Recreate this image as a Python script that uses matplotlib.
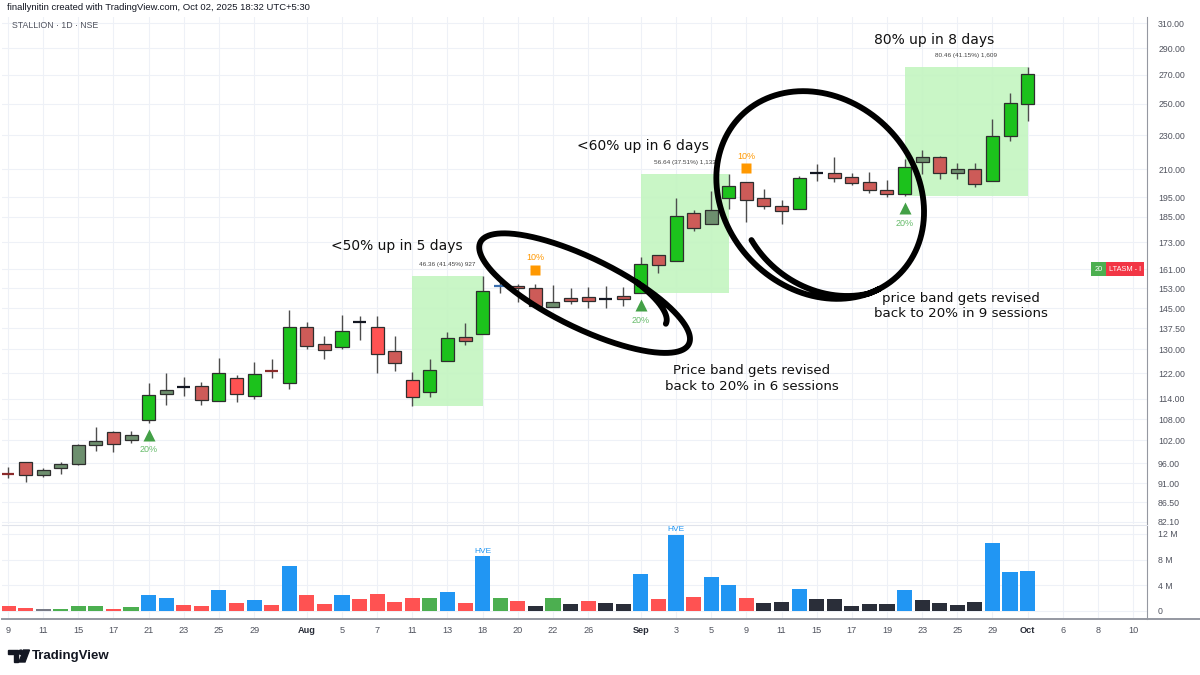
import numpy as np
import matplotlib
matplotlib.use('Agg')
import matplotlib.pyplot as plt
from matplotlib.patches import Rectangle, Polygon, Circle
from matplotlib.ticker import NullLocator, FixedLocator, FixedFormatter
from matplotlib.transforms import offset_copy

plt.rcParams['font.family'] = ['Liberation Sans', 'DejaVu Sans']

# STALLION 1D, sessions Jul 9 2025 -> Oct 1 2025
opens = [93.6, 96.2, 93.0, 94.9, 95.8, 100.8, 104.3, 102.0, 107.6, 115.4,
         117.5, 117.8, 113.3, 120.6, 114.8, 123.0, 119.0, 137.8, 131.8, 130.9,
         139.8, 137.8, 129.5, 119.7, 115.9, 126.0, 134.2, 135.5, 154.0, 154.1,
         153.0, 145.6, 149.1, 149.5, 148.7, 149.8, 151.2, 167.0, 164.6, 186.7,
         181.5, 194.6, 202.9, 194.7, 190.3, 188.8, 207.6, 207.8, 205.9, 203.1,
         198.6, 196.4, 214.0, 217.1, 208.1, 210.0, 203.5, 229.7, 249.7]
highs = [95.0, 96.4, 94.9, 96.2, 101.0, 105.6, 104.6, 104.7, 118.9, 122.2,
         120.8, 119.3, 127.2, 121.3, 125.6, 126.8, 144.2, 139.8, 134.6, 142.4,
         142.0, 141.9, 134.6, 122.4, 126.6, 136.3, 139.3, 158.21, 156.2, 154.8,
         154.8, 154.4, 153.2, 153.5, 153.7, 153.5, 166.3, 167.0, 194.6, 188.6,
         198.1, 207.64, 202.9, 199.0, 193.5, 206.1, 213.2, 217.1, 208.2, 208.7,
         203.9, 215.6, 221.0, 217.8, 213.7, 213.3, 240.2, 257.2, 275.99]
lows = [92.3, 91.3, 92.6, 93.2, 95.5, 99.1, 99.0, 101.2, 106.9, 112.0,
        114.9, 112.0, 113.3, 113.0, 113.8, 120.6, 117.0, 130.2, 126.8, 130.2,
        133.4, 122.1, 122.8, 111.85, 114.4, 126.0, 131.5, 135.5, 151.0, 147.3,
        145.2, 145.6, 146.7, 145.2, 145.2, 146.0, 151.0, 159.3, 164.6, 178.0,
        181.5, 188.8, 182.4, 188.8, 181.4, 188.8, 203.4, 203.1, 201.6, 196.9,
        195.2, 195.53, 207.6, 204.7, 204.7, 200.1, 203.5, 226.5, 238.8]
closes = [93.2, 93.0, 94.4, 95.7, 100.7, 101.8, 101.1, 103.6, 115.0, 116.8,
          117.7, 113.7, 122.2, 115.5, 121.9, 122.7, 137.8, 131.2, 129.7, 136.4,
          140.0, 128.3, 125.5, 114.4, 123.1, 134.1, 133.0, 151.7, 153.7, 153.2,
          145.9, 147.3, 147.7, 147.9, 148.9, 148.7, 163.3, 162.7, 185.6, 179.8,
          188.6, 201.0, 193.5, 190.3, 187.7, 205.0, 207.9, 205.4, 202.2, 198.5,
          196.6, 211.5, 217.1, 208.1, 209.9, 201.7, 229.4, 250.3, 270.9]
# candle colouring used on the chart
candle_kind = "drggggrgGg" "krGRGdGrrG" "kRrRGGrGbr" "rgrrkrGrGr" "gGrrrGkrrr" "rGgrgrGGG"

# volume in millions
volumes = [0.83, 0.5, 0.25, 0.3, 0.7, 0.7, 0.35, 0.55, 2.5, 2.07,
           0.93, 0.83, 3.3, 1.2, 1.7, 0.93, 7.05, 2.5, 1.1, 2.5,
           1.87, 2.65, 1.35, 1.97, 2.1, 2.9, 1.2, 8.5, 2.1, 1.6,
           0.83, 2.1, 1.03, 1.55, 1.2, 1.14, 5.7, 1.9, 11.9, 2.2,
           5.3, 4.05, 2.07, 1.2, 1.4, 3.47, 1.8, 1.8, 0.78, 1.1,
           1.1, 3.27, 1.7, 1.2, 0.93, 1.4, 10.6, 6.07, 6.23]
vol_kind = "RRgGGGRGBB" "RRBRBRBRRB" "RRRRGBRBGR" "KGKRKKBRBR" "BBRKKBKKKK" "KBKKKKBBB"
hve_idx = [27, 38]

tick_idx = [0, 2, 4, 6, 8, 10, 12, 14, 17, 19, 21, 23, 25, 27, 29, 31, 33, 36,
            38, 40, 42, 44, 46, 48, 50, 52, 54, 56, 58, 60, 62, 64]
tick_labels = ['9', '11', '15', '17', '21', '23', '25', '29', 'Aug', '5', '7', '11',
               '13', '18', '20', '22', '26', 'Sep', '3', '5', '9', '11', '15', '17',
               '19', '23', '25', '29', 'Oct', '6', '8', '10']
price_ticks = [82.1, 86.5, 91, 96, 102, 108, 114, 122, 130, 137.5, 145, 153, 161,
               173, 185, 195, 210, 230, 250, 270, 290, 310]

# measured moves (start session, end session) and their extra number
boxes = [(23, 27), (36, 41), (51, 58)]
box_extra = ['927', '1,133', '1,609']
tri_idx = [8, 36, 51]      # band back to 20%
sq_idx = [30, 42]          # band cut to 10%

body_col = {'G': '#1cc21c', 'g': '#6d8f6e', 'R': '#ff5252', 'r': '#cd5b58',
            'k': '#131722', 'd': '#8b2b2b', 'b': '#3a6fb0'}
vol_col = {'R': '#ff5252', 'G': '#4caf50', 'B': '#2196f3', 'K': '#2a2e39', 'g': '#787b86'}

GRID = '#eef1f7'
AXC = '#9598a1'
TXT = '#50535e'

fig = plt.figure(figsize=(12, 6.75), dpi=100)
fig.patch.set_facecolor('white')
W, H = 1200.0, 675.0
ax = fig.add_axes([2 / W, 151 / H, 1145 / W, 507 / H])
axv = fig.add_axes([2 / W, 56 / H, 1145 / W, 94 / H], sharex=ax)

n = len(closes)
x = np.arange(n)

# price pane
ax.set_yscale('log')
ax.set_ylim(81.66, 315.0)
ax.set_xlim(-0.34, 64.79)
ax.yaxis.set_major_locator(FixedLocator(price_ticks))
ax.yaxis.set_major_formatter(FixedFormatter([f"{p:.2f}" for p in price_ticks]))
ax.yaxis.set_minor_locator(NullLocator())
ax.yaxis.tick_right()
ax.tick_params(axis='y', length=0, pad=8, labelsize=6.3, labelcolor=TXT)
ax.tick_params(axis='x', length=0, labelbottom=False)
ax.grid(True, color=GRID, lw=0.8, zorder=0)
for s in ['top', 'left', 'bottom']:
    ax.spines[s].set_visible(False)
ax.spines['right'].set_color(AXC)
ax.set_axisbelow(True)

# measured move boxes
for (s0, s1), extra in zip(boxes, box_extra):
    lo, hi = lows[s0], highs[s1]
    ax.add_patch(Rectangle((s0, lo), s1 - s0, hi - lo, facecolor='#c3f5c0',
                           edgecolor='none', alpha=0.9, zorder=1))
    diff = hi - lo
    ax.annotate(f"{diff:.2f} ({diff / lo * 100:.2f}%) {extra}", xy=((s0 + s1) / 2, hi),
                xytext=(0, 11), textcoords='offset pixels', ha='center', va='center',
                fontsize=4.6, color='#444444', zorder=6)

# candles
for i in range(n):
    k = candle_kind[i]
    ax.vlines(i, lows[i], highs[i], color='#4d4d4d', lw=1.0, zorder=2)
    lo_b, hi_b = min(opens[i], closes[i]), max(opens[i], closes[i])
    if k in 'kdb':
        ax.hlines((opens[i] + closes[i]) / 2, i - 0.37, i + 0.37, color=body_col[k], lw=1.6, zorder=3)
    else:
        ax.bar(i, hi_b - lo_b, bottom=lo_b, width=0.74, color=body_col[k],
               edgecolor='#2e2e2e', linewidth=0.9, zorder=3)

# band markers
tri_tr = offset_copy(ax.transData, fig=fig, x=0, y=-12, units='dots')
tri_txt = offset_copy(ax.transData, fig=fig, x=0, y=-27, units='dots')
for i in tri_idx:
    ax.plot(i, lows[i], marker='^', ms=8.5, color='#43a047', mec='none', transform=tri_tr, zorder=6)
    ax.text(i, lows[i], '20%', transform=tri_txt, ha='center', va='center',
            fontsize=6.5, color='#66bb6a', zorder=6)
sq_tr = offset_copy(ax.transData, fig=fig, x=0, y=14, units='dots')
sq_txt = offset_copy(ax.transData, fig=fig, x=0, y=26, units='dots')
for i in sq_idx:
    ax.plot(i, highs[i], marker='s', ms=6.5, color='#ff9800', mec='none', transform=sq_tr, zorder=6)
    ax.text(i, highs[i], '10%', transform=sq_txt, ha='center', va='center',
            fontsize=6.5, color='#ff9800', zorder=6)

# handwritten notes
hand = dict(color='#111111', ha='center', va='center', zorder=7, family=['DejaVu Sans'])
ax.text(22.1, 171.2, '<50% up in 5 days', fontsize=10, **hand)
ax.text(36.1, 223.4, '<60% up in 6 days', fontsize=10, **hand)
ax.text(52.7, 296.3, '80% up in 8 days', fontsize=10, **hand)
ax.text(42.3, 120.3, 'Price band gets revised\nback to 20% in 6 sessions', fontsize=9.6,
        linespacing=1.25, **hand)
ax.text(54.2, 145.9, 'price band gets revised\nback to 20% in 9 sessions', fontsize=9.6,
        linespacing=1.25, **hand)

# right side status labels
ax.annotate('LTASM - I', xy=(1, 161), xycoords=('axes fraction', 'data'), xytext=(-6, 0),
            textcoords='offset pixels', ha='right', va='center', fontsize=5.3, color='white',
            bbox=dict(boxstyle='square,pad=0.45', fc='#f23645', ec='none'), zorder=8)
ax.annotate('20', xy=(1, 161), xycoords=('axes fraction', 'data'), xytext=(-44, 0),
            textcoords='offset pixels', ha='right', va='center', fontsize=5.3, color='white',
            bbox=dict(boxstyle='square,pad=0.45', fc='#4caf50', ec='none'), zorder=8)

# volume pane
axv.bar(x, volumes, width=0.86, color=[vol_col[k] for k in vol_kind], zorder=2)
for i in hve_idx:
    axv.text(i, volumes[i] + 0.25, 'HVE', ha='center', va='bottom', fontsize=6, color='#2196f3')
axv.set_ylim(-1.25, 13.4)
axv.set_yticks([0, 4, 8, 12])
axv.set_yticklabels(['0', '4 M', '8 M', '12 M'])
axv.yaxis.tick_right()
axv.tick_params(axis='y', length=0, pad=8, labelsize=6.3, labelcolor=TXT)
axv.set_xticks(tick_idx)
axv.set_xticklabels(tick_labels)
axv.tick_params(axis='x', length=0, pad=5, labelsize=6.6, labelcolor=TXT)
for lbl in axv.get_xticklabels():
    if lbl.get_text() in ('Aug', 'Sep', 'Oct'):
        lbl.set_fontweight('bold')
        lbl.set_color('#2a2e39')
axv.grid(True, color=GRID, lw=0.8, zorder=0)
axv.set_axisbelow(True)
axv.spines['top'].set_color('#e0e3eb')
axv.spines['left'].set_visible(False)
axv.spines['right'].set_color(AXC)
axv.spines['bottom'].set_color(AXC)
axv.spines['bottom'].set_linewidth(1.4)

# header
fig.text(7 / W, 1 - 8 / H, 'finallynitin created with TradingView.com, Oct 02, 2025 18:32 UTC+5:30',
         fontsize=6.8, color='#131722', va='center', ha='left')
fig.text(12 / W, 1 - 26 / H, 'STALLION \u00b7 1D \u00b7 NSE', fontsize=6.3, color='#50535e',
         va='center', ha='left')

# overlay for hand drawn loops and logo (pixel coordinates)
ov = fig.add_axes([0, 0, 1, 1], zorder=10)
ov.set_xlim(0, W)
ov.set_ylim(0, H)
ov.axis('off')
ov.patch.set_alpha(0)

# time axis line runs on under the price scale
ov.plot([1147, 1200], [H - 619, H - 619], color=AXC, lw=1.4)


def hand_loop(cx_i, cy_p, a, b, angle, t_knots, s_knots):
    cx, cy = ax.transData.transform((cx_i, cy_p))
    t = np.linspace(t_knots[0], t_knots[-1], 500)
    s = np.interp(t, t_knots, s_knots)
    ex, ey = a * s * np.cos(t), b * s * np.sin(t)
    th = np.deg2rad(angle)
    ov.plot(cx + ex * np.cos(th) - ey * np.sin(th), cy + ex * np.sin(th) + ey * np.cos(th),
            color='black', lw=4.2, solid_capstyle='round', solid_joinstyle='round')


tp = 2 * np.pi
hand_loop(32.8, 151.0, 116, 35, -26, [0.3 - tp, 1.2 - tp, 1.2], [0.78, 1.0, 1.0])
hand_loop(46.2, 196.1, 112, 95, -45, [np.deg2rad(-100), np.deg2rad(-22), np.deg2rad(345)],
          [0.86, 1.0, 1.0])

# TradingView logo
ly = lambda v: H - v
ov.add_patch(Polygon([(8, ly(650)), (18, ly(650)), (18, ly(662)), (14, ly(662)), (14, ly(654)), (8, ly(654))],
                     closed=True, color='#131722'))
ov.add_patch(Circle((20.8, ly(652.2)), 2.1, color='#131722'))
ov.add_patch(Polygon([(23.5, ly(650)), (29.5, ly(650)), (25, ly(662)), (19, ly(662))],
                     closed=True, color='#131722'))
fig.text(32 / W, 1 - 656 / H, 'TradingView', fontsize=9.5, fontweight='bold', color='#131722',
         va='center', ha='left')

fig.savefig('out.png', dpi=100, facecolor='white')
